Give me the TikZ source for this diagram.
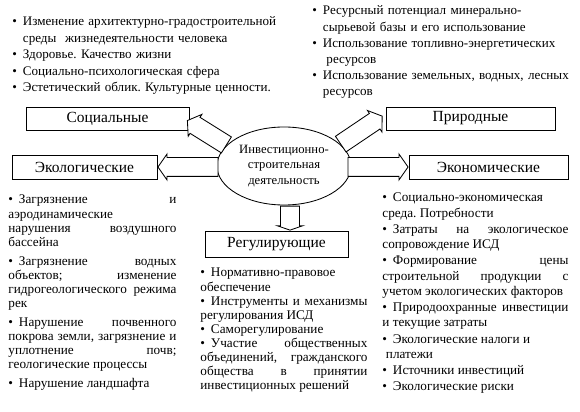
\documentclass[tikz,border=0pt]{standalone}
\usepackage{fontspec}
\setmainfont{Liberation Serif}
\usetikzlibrary{shapes.geometric, shapes.arrows, calc}

\frenchspacing
\hyphenpenalty=10000
\exhyphenpenalty=10000

\newcommand{\itm}{\makebox[7.5pt][l]{\textbullet}}
\newcommand{\ind}{\hspace*{7.5pt}}

\begin{document}
\begin{tikzpicture}[
  x=0.025cm, y=-0.025cm,
  line width=0.6pt,
  box/.style={draw, inner sep=0pt, minimum height=0.6cm, font=\fontsize{11}{13}\selectfont},
  blockarrow/.style={single arrow, draw, fill=white, inner xsep=0pt, inner ysep=0.225cm,
    minimum width=0.625cm, single arrow head extend=0.0875cm, single arrow tip angle=110},
  list/.style={anchor=base west, inner sep=0pt, align=justify, font=\fontsize{9.4}{10}\selectfont}
]

\useasboundingbox (0,0) rectangle (580,412);

% =========================
% Centre
% =========================
\node[ellipse, draw, minimum width=3.35cm, minimum height=1.95cm, inner sep=0pt, align=center,
  font=\fontsize{9}{10.9}\selectfont] (isd) at (284,166) {
Инвестиционно-\\строительная\\деятельность
};

% =========================
% Factor boxes
% =========================
\node[box, minimum width=4.075cm, minimum height=0.575cm] (soc) at (107.5,118.5) {Социальные};
\node[box, minimum width=4.225cm, minimum height=0.575cm] (prir) at (470.5,118.5) {Природные};
\node[box, minimum width=3.625cm] (eco) at (84.5,167) {Экологические};
\node[box, minimum width=3.975cm] (econ) at (488.5,167) {Экономические};
\node[box, minimum width=3.575cm, minimum height=0.65cm] (reg) at (276.5,244) {Регулирующие};

% block arrows
\node[blockarrow, minimum height=1.15cm, rotate=148, anchor=tail] (tosoc) at (isd.160) {};
\node[blockarrow, minimum height=1.25cm, rotate=34, anchor=tail] (toprir) at (isd.21) {};
\node[blockarrow, minimum height=1.5cm, rotate=180, anchor=tip] (toeco) at (eco.east) {};
\node[blockarrow, minimum height=1.5cm, anchor=tip] (toecon) at (econ.west) {};
\node[blockarrow, minimum height=0.6cm, rotate=-90, anchor=tip, single arrow tip angle=142]
  (toreg) at ($(reg.north)+(13.5,0)$) {};

% =========================
% Lists
% =========================
\node[list, text width=7cm, align=left, font=\fontsize{9.3}{11.7}\selectfont] (soclist) at (12,26) {
\itm Изменение архитектурно-градостроительной\\
\ind среды\ \ жизнедеятельности человека\\
\itm Здоровье. Качество жизни\\
\itm Социально-психологическая сфера\\
\itm Эстетический облик. Культурные ценности.
};

\node[list, text width=6.5cm, align=left, font=\fontsize{9.3}{11.5}\selectfont] (natlist) at (312,15) {
\itm Ресурсный потенциал минерально-\\
\ind сырьевой базы и его использование\\
\itm Использование топливно-энергетических\\
\ind\hspace*{2.5pt}ресурсов\\
\itm Использование земельных, водных, лесных\\
\ind ресурсов
};

\node[list, text width=4.2cm] (ecolist) at (8,204) {\setlength{\parskip}{3.5pt}%
\itm Загрязнение и\linebreak аэродинамические\linebreak нарушения воздушного\linebreak бассейна\par
\itm Загрязнение водных\linebreak объектов; изменение\linebreak гидрогеологического режима\linebreak рек\par
\itm Нарушение почвенного\linebreak покрова земли, загрязнение и\linebreak уплотнение почв;\linebreak геологические процессы\par
\itm Нарушение ландшафта
};

\node[list, text width=4.175cm] (reglist) at (200,277) {
\itm Нормативно-правовое\\ обеспечение\par
\itm Инструменты и механизмы\linebreak регулирования ИСД\par
\itm Саморегулирование\par
\itm Участие общественных\linebreak объединений, гражданского\linebreak общества в принятии\linebreak инвестиционных решений
};

\node[list, text width=4.65cm, font=\fontsize{9.4}{10.7}\selectfont] (econlist) at (382,202) {\setlength{\parskip}{1pt}%
\itm Социально-экономическая\\ среда. Потребности\par
\itm Затраты на экологическое\linebreak сопровождение ИСД\par
\itm Формирование цены\linebreak строительной продукции с\linebreak учетом экологических факторов\par
\itm Природоохранные инвестиции\linebreak и текущие затраты\par
\itm Экологические налоги и\\ \hspace*{2.5pt}платежи\par
\itm Источники инвестиций\par
\itm Экологические риски
};

\end{tikzpicture}
\end{document}
